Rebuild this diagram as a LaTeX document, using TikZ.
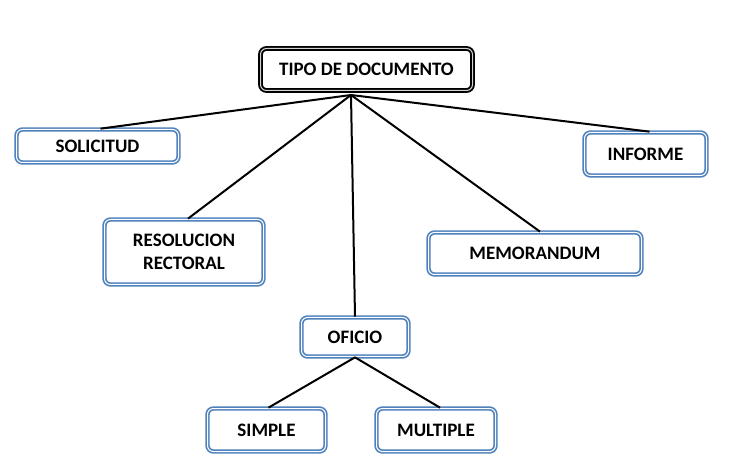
\documentclass[tikz,border=0pt]{standalone}
\usepackage{fontspec}
\setmainfont{Carlito}
\definecolor{boxblue}{RGB}{79,129,189}
\begin{document}
\begin{tikzpicture}[x=1pt,y=-1pt,
  box/.style={draw=boxblue, double=white, line width=1.7pt, double distance=1pt,
    rounded corners=6pt, fill=white, align=center, inner sep=0pt,
    font=\fontsize{19}{23.5}\selectfont\bfseries, text=black},
  topbox/.style={box, draw=black, double=gray!35, line width=1.9pt},
  link/.style={line width=2pt, black}]
\useasboundingbox (0,0) rectangle (729,465);
\node[topbox, minimum width=212pt, minimum height=42pt] (tipo) at (366.5,69.5) {TIPO DE DOCUMENTO};
\node[box, minimum width=162pt, minimum height=33pt] (sol) at (97.5,146) {SOLICITUD};
\node[box, minimum width=122pt, minimum height=43pt] (inf) at (645.5,154) {INFORME};
\node[box, minimum width=159pt, minimum height=65pt] (res) at (184,252) {RESOLUCION\\RECTORAL};
\node[box, minimum width=213pt, minimum height=42pt] (mem) at (535,253.5) {MEMORANDUM};
\node[box, minimum width=107pt, minimum height=39pt] (ofi) at (355,337) {OFICIO};
\node[box, minimum width=118pt, minimum height=43pt] (sim) at (266.5,430) {SIMPLE};
\node[box, minimum width=119pt, minimum height=43pt] (mul) at (436,430) {MULTIPLE};
\coordinate (hub) at (351,95);
\draw[link] (hub) -- ([xshift=3pt]sol.north);
\draw[link] (hub) -- ([xshift=4pt]inf.north);
\draw[link] (hub) -- ([xshift=4pt]res.north);
\draw[link] (hub) -- ([xshift=5pt]mem.north);
\draw[link] (hub) -- (ofi.north);
\draw[link] (ofi.south) -- ([xshift=2pt]sim.north);
\draw[link] (ofi.south) -- ([xshift=4pt]mul.north);
\end{tikzpicture}
\end{document}
